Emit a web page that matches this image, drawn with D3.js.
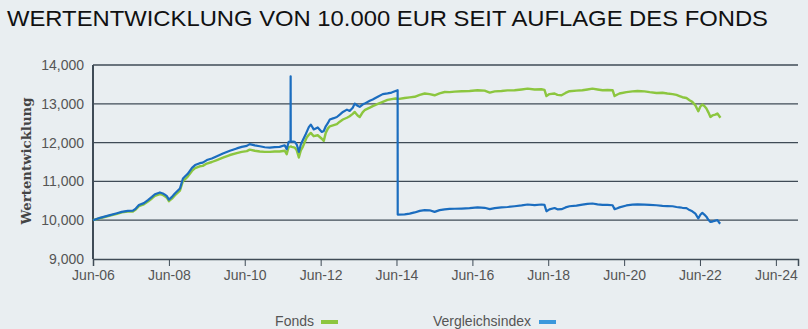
<!DOCTYPE html>
<html><head><meta charset="utf-8">
<script src="https://cdn.jsdelivr.net/npm/d3@7"></script>
<style>
html,body{margin:0;padding:0;background:#e9eef1;}
svg{display:block;}
</style></head>
<body>
<svg id="chart" width="808" height="329"></svg>
<script>
const titleText = "WERTENTWICKLUNG VON 10.000 EUR SEIT AUFLAGE DES FONDS";
const yAxisTitle = "Wertentwicklung";
const seriesNames = ["Fonds", "Vergleichsindex"];
const yTicks = [9000, 10000, 11000, 12000, 13000, 14000];
const xTickYears = [2006, 2008, 2010, 2012, 2014, 2016, 2018, 2020, 2022, 2024];

const dates = [
"2006-06-01","2006-08-07","2006-11-12","2007-01-18","2007-03-05","2007-05-02","2007-06-20","2007-07-18","2007-08-17","2007-10-04",
"2007-11-12","2007-12-20","2008-01-18","2008-03-06","2008-04-04","2008-04-23","2008-05-12","2008-06-01","2008-06-30","2008-07-28",
"2008-09-15","2008-10-14","2008-11-12","2008-12-01","2009-01-09","2009-02-08","2009-03-25","2009-04-23","2009-06-01","2009-07-19",
"2009-09-06","2009-11-03","2010-01-09","2010-03-16","2010-05-03","2010-06-21","2010-07-19","2010-09-06","2010-10-24","2010-12-11",
"2011-01-29","2011-03-16","2011-05-03","2011-06-21","2011-07-10","2011-07-29","2011-08-16","2011-08-17","2011-08-18","2011-08-27",
"2011-09-26","2011-10-15",
"2011-11-04","2011-11-23","2011-12-12","2012-01-10","2012-01-19","2012-02-08","2012-02-27","2012-03-26","2012-05-04","2012-06-12",
"2012-07-01","2012-07-20","2012-08-09","2012-08-28","2012-10-05","2012-11-04","2012-12-02","2013-01-01","2013-02-09","2013-03-07",
"2013-04-06","2013-04-25","2013-05-23","2013-06-12","2013-07-10","2013-07-29","2013-09-17","2013-10-15","2013-12-03","2014-01-20",
"2014-03-07","2014-04-15","2014-05-23","2014-06-12","2014-06-13","2014-08-19","2014-10-06","2014-11-23","2015-01-11","2015-02-28",
"2015-04-16","2015-06-03","2015-07-21","2015-09-08","2015-10-25","2015-12-13","2016-02-19","2016-05-05","2016-07-21","2016-09-27",
"2016-11-15","2017-01-02","2017-03-08","2017-05-05","2017-07-12","2017-09-18","2017-11-15","2018-01-21","2018-03-28","2018-04-26",
"2018-05-15","2018-06-13","2018-08-01","2018-08-29","2018-10-07","2018-11-15","2018-12-23","2019-02-28","2019-04-26","2019-06-14",
"2019-08-01","2019-09-19","2019-11-06","2019-12-23","2020-02-11","2020-03-01","2020-03-28","2020-04-17","2020-06-23","2020-08-20",
"2020-10-08","2020-12-14","2021-02-02","2021-04-08","2021-06-05","2021-07-22","2021-09-10","2021-10-18","2021-11-16","2021-12-14",
"2022-01-22","2022-02-21","2022-03-19","2022-04-18","2022-05-16","2022-06-05","2022-06-24","2022-07-13","2022-08-02","2022-08-21",
"2022-09-10","2022-09-29","2022-10-27","2022-11-16","2022-12-05","2022-12-15"
];

const fonds = [
10000,10050,10120,10165,10200,10225,10225,10275,10360,10410,
10480,10560,10630,10675,10650,10615,10580,10490,10555,10640,
10760,11010,11080,11130,11270,11340,11390,11400,11460,11500,
11550,11610,11680,11730,11760,11780,11820,11790,11770,11760,
11760,11770,11770,11790,11700,11890,11895,11900,11900,11890,
11870,11800,
11615,11800,11890,12080,12130,12200,12250,12165,12190,12100,
12045,12250,12360,12420,12450,12475,12540,12595,12640,12680,
12740,12790,12700,12660,12780,12835,12900,12940,13000,13050,
13100,13120,13135,13130,13120,13150,13165,13180,13230,13265,
13250,13220,13270,13305,13300,13315,13325,13330,13350,13340,
13290,13320,13330,13345,13350,13370,13390,13370,13375,13360,
13200,13250,13265,13230,13220,13280,13325,13340,13350,13370,
13390,13370,13350,13355,13350,13200,13240,13265,13300,13320,
13330,13320,13300,13280,13285,13265,13250,13230,13200,13170,
13150,13090,13050,12960,12810,12930,12980,12945,12880,12780,
12660,12700,12720,12750,12680,12640
];

const index = [
10000,10060,10130,10180,10215,10240,10245,10300,10390,10440,
10515,10600,10670,10715,10690,10660,10620,10530,10600,10690,
10815,11075,11150,11200,11350,11420,11470,11485,11550,11590,
11650,11720,11790,11850,11890,11915,11960,11930,11905,11880,
11870,11885,11890,11930,11830,12020,12025,13710,12030,12030,
12020,11950,
11760,11950,12060,12220,12275,12400,12465,12340,12390,12275,
12300,12420,12500,12595,12630,12660,12720,12790,12850,12815,
12900,13005,12950,12920,12980,13005,13080,13110,13180,13250,
13270,13290,13330,13350,10145,10150,10170,10200,10240,10260,
10255,10215,10260,10280,10290,10295,10300,10310,10330,10320,
10285,10310,10330,10340,10360,10380,10405,10390,10405,10395,
10230,10280,10315,10280,10285,10330,10360,10375,10400,10420,
10430,10410,10395,10395,10385,10285,10310,10330,10380,10400,
10410,10400,10395,10385,10370,10365,10360,10340,10330,10320,
10310,10260,10230,10170,10045,10140,10190,10145,10090,10010,
9955,9965,9990,10000,9930,9915
];

const seriesColors = ["#8cc63f", "#1b6dbf"];
const legendColors = ["#8cc63f", "#3a98dc"];

const parse = d3.timeParse("%Y-%m-%d");
const svg = d3.select("#chart");

const x = d3.scaleTime()
  .domain([new Date(2006, 5, 1), new Date(2024, 11, 31)])
  .range([93, 798]);
const y = d3.scaleLinear().domain([9000, 14000]).range([259, 65]);

// title
svg.append("text")
  .attr("x", 7).attr("y", 26)
  .attr("font-family", "Liberation Sans, Arial, sans-serif")
  .attr("font-size", 21.5)
  .attr("fill", "#111")
  .attr("textLength", 761).attr("lengthAdjust", "spacingAndGlyphs")
  .text(titleText);

// gridlines
svg.append("g").selectAll("line").data(yTicks.filter(v => v > 9000)).join("line")
  .attr("x1", 93).attr("x2", 798)
  .attr("y1", d => y(d)).attr("y2", d => y(d))
  .attr("stroke", "#3f4b56").attr("stroke-width", 1.3);

// y axis labels
const yAxis = d3.axisLeft(y).tickValues(yTicks).tickSize(0).tickPadding(9)
  .tickFormat(d3.format(","));
const gy = svg.append("g").attr("transform", "translate(93,0)").call(yAxis);
gy.select(".domain").remove();
gy.selectAll("text").attr("font-family", "Liberation Sans, Arial, sans-serif")
  .attr("font-size", 14).attr("fill", "#555");
svg.append("line").attr("x1", 93).attr("x2", 93).attr("y1", 65).attr("y2", 259)
  .attr("stroke", "#3f4b56").attr("stroke-width", 2);

// x axis
const xAxis = d3.axisBottom(x)
  .tickValues(xTickYears.map(yr => new Date(yr, 5, 1)))
  .tickSize(7).tickPadding(4)
  .tickFormat(d3.timeFormat("Jun-%y"));
const gx = svg.append("g").attr("transform", "translate(0,259)").call(xAxis);
gx.select(".domain").attr("stroke", "#3f4b56").attr("stroke-width", 1.5);
gx.selectAll(".tick line").attr("stroke", "#3f4b56").attr("stroke-width", 1);
gx.selectAll("text").attr("font-family", "Liberation Sans, Arial, sans-serif")
  .attr("font-size", 14).attr("fill", "#555");

// y axis title
svg.append("text")
  .attr("transform", "translate(31,161) rotate(-90)")
  .attr("text-anchor", "middle")
  .attr("font-family", "DejaVu Serif, serif")
  .attr("font-weight", "bold")
  .attr("font-size", 13)
  .attr("fill", "#444")
  .attr("textLength", 127).attr("lengthAdjust", "spacingAndGlyphs")
  .text(yAxisTitle);

// lines
const pts = dates.map((d, i) => ({date: parse(d), f: fonds[i], b: index[i]}));
const lineF = d3.line().x(d => x(d.date)).y(d => y(d.f));
const lineB = d3.line().x(d => x(d.date)).y(d => y(d.b));
svg.append("path").datum(pts).attr("d", lineF)
  .attr("fill", "none").attr("stroke", seriesColors[0]).attr("stroke-width", 2.4)
  .attr("stroke-linejoin", "round");
svg.append("path").datum(pts).attr("d", lineB)
  .attr("fill", "none").attr("stroke", seriesColors[1]).attr("stroke-width", 2.2)
  .attr("stroke-linejoin", "round");

// legend
const legend = [
  {name: seriesNames[0], tx: 314, sx: 321, color: legendColors[0]},
  {name: seriesNames[1], tx: 531, sx: 539, color: legendColors[1]}
];
const lg = svg.append("g");
lg.selectAll("text").data(legend).join("text")
  .attr("x", d => d.tx).attr("y", 326).attr("text-anchor", "end")
  .attr("font-family", "Liberation Sans, Arial, sans-serif")
  .attr("font-size", 14).attr("fill", "#555")
  .text(d => d.name);
lg.selectAll("rect").data(legend).join("rect")
  .attr("x", d => d.sx).attr("y", 320).attr("width", 17).attr("height", 4)
  .attr("fill", d => d.color);
</script>
</body></html>
